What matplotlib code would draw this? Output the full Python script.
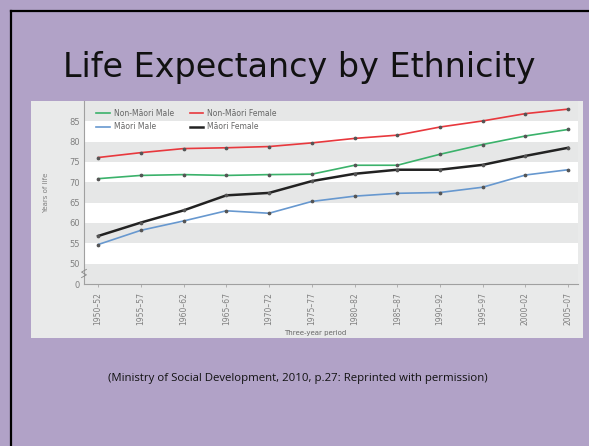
import matplotlib.pyplot as plt
from matplotlib.patches import Rectangle
from matplotlib.lines import Line2D

periods = ['1950–52', '1955–57', '1960–62', '1965–67', '1970–72', '1975–77',
           '1980–82', '1985–87', '1990–92', '1995–97', '2000–02', '2005–07']

non_maori_male = [70.9, 71.7, 71.9, 71.7, 71.9, 72.0, 74.2, 74.2, 76.9, 79.3, 81.4, 83.0]
non_maori_female = [76.1, 77.3, 78.3, 78.5, 78.8, 79.7, 80.8, 81.6, 83.6, 85.1, 86.9, 88.0]
maori_male = [54.7, 58.2, 60.5, 63.0, 62.4, 65.3, 66.6, 67.3, 67.5, 68.8, 71.8, 73.1]
maori_female = [56.8, 60.1, 63.1, 66.8, 67.4, 70.3, 72.1, 73.1, 73.1, 74.3, 76.5, 78.5]

ytick_values = [0, 50, 55, 60, 65, 70, 75, 80, 85]

# broken axis: 0 sits one band below 50
def squash(v):
    return 0 if v == 0 else v - 45

W, H = 589, 446
fig = plt.figure(figsize=(W / 100, H / 100), dpi=100)
fig.patch.set_facecolor('#b1a2c7')

# slide frame (top and left edges only are visible)
fig.add_artist(Line2D([11 / W, 1], [1 - 11 / H, 1 - 11 / H], color='black', lw=1.6))
fig.add_artist(Line2D([11 / W, 11 / W], [0, 1 - 11 / H], color='black', lw=1.6))

fig.text(299 / W, 1 - 67 / H, 'Life Expectancy by Ethnicity', ha='center', va='center',
         fontsize=24, color='#111111', family='DejaVu Sans')

# pasted chart picture background
bg = Rectangle((31 / W, 1 - 338 / H), (583 - 31) / W, (338 - 101) / H,
               transform=fig.transFigure, facecolor='#e9eaea', edgecolor='none', zorder=-5)
fig.add_artist(bg)

ax = fig.add_axes([84 / W, 1 - 284 / H, (578 - 84) / W, (284 - 101) / H])
ax.set_zorder(2)
ax.set_facecolor('#e6e7e7')
ax.set_xlim(-0.33, 11.23)
ax.set_ylim(0, 45)
for lo in [5, 15, 25, 35]:
    ax.axhspan(lo, lo + 5, color='white', lw=0, zorder=0)

x = list(range(len(periods)))
series = {
    'Non-Māori Male': (non_maori_male, '#3bb26b', 1.2),
    'Non-Māori Female': (non_maori_female, '#e8383d', 1.2),
    'Māori Male': (maori_male, '#6798cf', 1.2),
    'Māori Female': (maori_female, '#222222', 1.8),
}
handles = {}
for name, (vals, col, lw) in series.items():
    yv = [squash(v) for v in vals]
    ax.plot(x, yv, color=col, lw=lw, zorder=3)
    ax.plot(x, yv, ls='none', marker='o', ms=1.7, color='#555555', zorder=4)
    handles[name] = Line2D([], [], color=col, lw=lw, label=name)

# legend fills column-wise: males in column 1, females in column 2
order = ['Non-Māori Male', 'Māori Male', 'Non-Māori Female', 'Māori Female']
leg = ax.legend(handles=[handles[k] for k in order], ncol=2, loc='upper left',
                bbox_to_anchor=((96 - 84) / 494, (284 - 109) / 183),
                frameon=False, fontsize=5.5, handlelength=1.8, columnspacing=2.1,
                labelspacing=0.55, handletextpad=0.5, borderaxespad=0, borderpad=0)
for t in leg.get_texts():
    t.set_color('#666666')

ax.set_yticks([squash(v) for v in ytick_values])
ax.set_yticklabels([str(v) for v in ytick_values])
ax.set_xticks(x)
ax.set_xticklabels(periods, rotation=90)
ax.tick_params(axis='y', length=0, labelsize=6, labelcolor='#808080', pad=3)
ax.tick_params(axis='x', length=2, width=0.5, color='#999999', labelsize=5.5,
               labelcolor='#808080', pad=4)
for s in ['top', 'right']:
    ax.spines[s].set_visible(False)
for s in ['left', 'bottom']:
    ax.spines[s].set_color('#a0a0a0')
    ax.spines[s].set_linewidth(0.8)

# axis break mark
ax.plot([-0.005, 0.005, -0.005, 0.005], [0.035, 0.05, 0.065, 0.08], transform=ax.transAxes,
        color='#888888', lw=0.6, clip_on=False, zorder=5)

ax.set_ylabel('Years of life', fontsize=5, color='#808080')
ax.yaxis.set_label_coords((49 - 84) / 494, 0.5)
fig.text(315 / W, 1 - 333 / H, 'Three-year period', ha='center', va='center',
         fontsize=5, color='#666666')

fig.text(298 / W, 1 - 378 / H,
         '(Ministry of Social Development, 2010, p.27: Reprinted with permission)',
         ha='center', va='center', fontsize=8.2, color='#111111', family='Open Sans')

fig.savefig('out.png', dpi=100, facecolor=fig.get_facecolor())
